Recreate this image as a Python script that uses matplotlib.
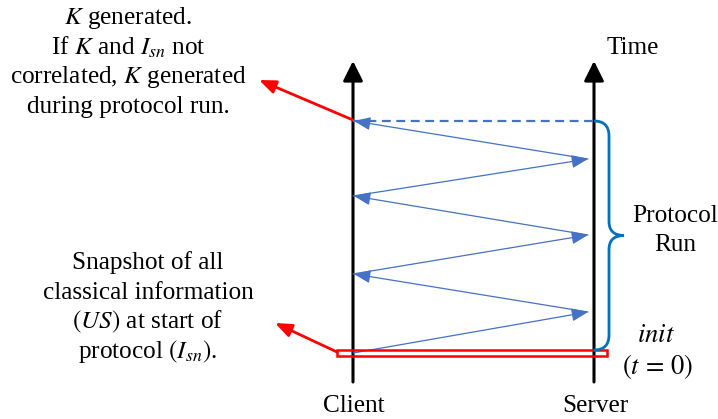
import matplotlib
matplotlib.use("Agg")
import matplotlib.pyplot as plt
from matplotlib.patches import FancyArrowPatch, Rectangle
from matplotlib.path import Path
from matplotlib.patches import PathPatch

plt.rcParams['font.family'] = ['Liberation Serif', 'DejaVu Serif']
plt.rcParams['mathtext.fontset'] = 'stix'

# Data: timeline positions (pixel-like coordinates of the diagram)
lanes = ["Client", "Server"]
lane_x = [353, 594]
lane_top = 62
lane_bottom = 382
# message endpoints along time axis (y), alternating client/server starting at client
msg_y = [353, 312, 274, 235, 196, 159, 121]
msg_side = [0, 1, 0, 1, 0, 1, 0]

W, H = 718, 419
fig = plt.figure(figsize=(W / 100, H / 100), dpi=100)
ax = fig.add_axes([0, 0, 1, 1])
ax.set_xlim(0, W)
ax.set_ylim(H, 0)
ax.axis('off')

blue = '#4472C4'
brace_blue = '#0070C0'
red = '#FF0000'
fs = 18.2

# lanes
for x in lane_x:
    ax.add_patch(FancyArrowPatch((x, lane_bottom), (x, lane_top - 1),
                                 arrowstyle='-|>,head_length=12,head_width=6',
                                 mutation_scale=1, color='black', lw=2.2,
                                 shrinkA=0, shrinkB=0))
for name, x in zip(lanes, lane_x):
    ax.text(x + 1, 406, name, ha='center', va='center', fontsize=fs)

# messages
for i in range(len(msg_y) - 1):
    x0 = lane_x[msg_side[i]]
    x1 = lane_x[msg_side[i + 1]]
    if msg_side[i + 1] == 1:
        x1e = x1 - 6
        x0s = x0
    else:
        x1e = x1 + 1
        x0s = x0 - 6
    ax.add_patch(FancyArrowPatch((x0s, msg_y[i]), (x1e, msg_y[i + 1]),
                                 arrowstyle='-|>,head_length=10,head_width=4',
                                 mutation_scale=1, color=blue, lw=0.9,
                                 shrinkA=0, shrinkB=0))

# dashed final line
ax.plot([lane_x[0], lane_x[1]], [msg_y[-1], msg_y[-1]], ls=(0, (4, 2.5)),
        color=blue, lw=1.6)

# init rectangle
ax.add_patch(Rectangle((337, 350), 607 - 337, 6, fill=False, ec=red, lw=1.8))

# brace
top, bot = msg_y[-1], 350
mid = (top + bot) / 2
xs, xb, xt = lane_x[1], 609, 624
verts = [(xs, top), (xb, top), (xb, top + 15),
         (xb, mid - 14), (xb, mid), (xt, mid),
         (xb, mid), (xb, mid + 14),
         (xb, bot - 15), (xb, bot), (xs, bot)]
codes = [Path.MOVETO, Path.CURVE3, Path.CURVE3,
         Path.LINETO, Path.CURVE3, Path.CURVE3,
         Path.CURVE3, Path.CURVE3,
         Path.LINETO, Path.CURVE3, Path.CURVE3]
ax.add_patch(PathPatch(Path(verts, codes), fill=False, ec=brace_blue, lw=2.0))

# red arrows
ax.add_patch(FancyArrowPatch((353, 120), (259, 80),
                             arrowstyle='-|>,head_length=10,head_width=4',
                             mutation_scale=1, color=red, lw=2.0,
                             shrinkA=0, shrinkB=0))
ax.add_patch(FancyArrowPatch((337, 352), (275, 323),
                             arrowstyle='-|>,head_length=10,head_width=4',
                             mutation_scale=1, color=red, lw=2.0,
                             shrinkA=0, shrinkB=0))

# texts
top_lines = [r"$K$ generated.", r"If $K$ and $I_{sn}$ not",
             r"correlated, $K$ generated", "during protocol run."]
for i, t in enumerate(top_lines):
    ax.text(128, 18 + i * 29.5, t, ha='center', va='center', fontsize=fs)

bot_lines = ["Snapshot of all", "classical information",
             r"$(US)$ at start of", r"protocol $(I_{sn})$."]
for i, t in enumerate(bot_lines):
    ax.text(148, 263 + i * 29.5, t, ha='center', va='center', fontsize=fs)

ax.text(633, 48, "Time", ha='center', va='center', fontsize=fs)
ax.text(675, 216, "Protocol", ha='center', va='center', fontsize=fs)
ax.text(675, 245, "Run", ha='center', va='center', fontsize=fs)
ax.text(656, 335, r"$init$", ha='center', va='center', fontsize=fs + 1)
ax.text(658, 366, r"$(t\,=\,0)$", ha='center', va='center', fontsize=fs + 1)

fig.savefig("out.png", dpi=100)
